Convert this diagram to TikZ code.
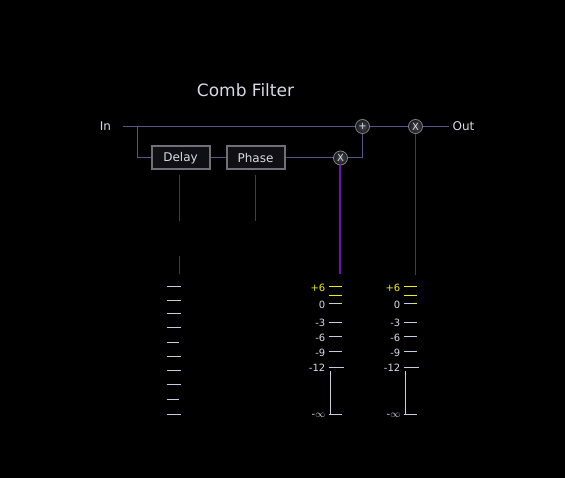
\documentclass[tikz,border=0pt]{standalone}
\usepackage{fontspec}
\setmainfont{DejaVu Sans}
\usepackage{xcolor}
\usetikzlibrary{positioning}

\definecolor{wire}{RGB}{92,82,138}
\definecolor{ctrl}{RGB}{112,16,176}
\definecolor{txt}{RGB}{214,218,230}
\definecolor{boxfill}{RGB}{16,16,20}
\definecolor{boxedge}{RGB}{112,112,120}
\definecolor{opedge}{RGB}{130,130,138}
\definecolor{opin}{RGB}{72,72,78}
\definecolor{opout}{RGB}{26,26,30}
\definecolor{tick}{RGB}{200,204,222}
\definecolor{hot}{RGB}{240,240,0}

\tikzset{
  block/.style={draw=boxedge, line width=2pt, fill=boxfill, minimum width=58pt,
    minimum height=23pt, inner sep=0pt, text=txt, font=\fontsize{12}{14}\selectfont},
  op/.style={circle, draw=opedge, line width=0.8pt, inner color=opin,
    outer color=opout, minimum size=14pt, inner sep=0pt, text=txt,
    font=\fontsize{10}{12}\selectfont},
  lbl/.style={text=txt, font=\fontsize{12}{14}\selectfont},
  mlbl/.style={text=txt, anchor=east, inner sep=0pt, font=\fontsize{10}{11}\selectfont},
  wireline/.style={draw=wire, line width=1pt},
  ctrlline/.style={draw=ctrl, line width=1pt},
  tickline/.style={draw=tick, line width=1pt},
}

\begin{document}
\begin{tikzpicture}[x=1pt, y=-1pt]
% Background and frame
\useasboundingbox (0,0) rectangle (565,478);
\fill[black] (0,0) rectangle (565,478);

\begin{scope}[shift={(0.5,0.5)}]
% Title
\node[lbl, font=\fontsize{17}{20}\selectfont] (title) at (245,90) {Comb Filter};

% Signal path nodes
\node[lbl] (in) at (105,126) {In};
\node[block] (delay) at (180,157.5) {Delay};
\node[block] (phase) at (255,157.5) {Phase};
\node[op] (mul) at (340,157.5) {X};
\node[op] (sum) at (362,126) {+};
\node[op] (gain) at (415,126) {X};
\node[lbl] (out) at (463,126) {Out};

% Wires
\coordinate (start) at (122,126);
\coordinate (split) at (137,126);
\draw[wireline] (start) -- (sum) -- (gain) -- (out);
\draw[wireline] (split) |- (delay.west);
\draw[wireline] (delay) -- (phase) -- (mul) -| (sum);

% Control lines
\coordinate (dtop) at (179,175);
\coordinate (dmid) at (179,221);
\coordinate (dlow) at (179,256);
\coordinate (dend) at (179,274);
\coordinate (ptop) at (255,175);
\coordinate (pend) at (255,221);
\coordinate (mend) at (339.5,274);
\coordinate (gend) at (415,275);
\draw[ctrlline] (dtop) -- (dmid);
\draw[ctrlline] (dlow) -- (dend);
\draw[ctrlline] (ptop) -- (pend);
\draw[ctrlline, line width=2pt] (mul.south -| mend) -- (mend);
\draw[ctrlline] (gain) -- (gend);

% Left scale
\foreach \y/\w in {286/14,300/14,313/14,327/14,342/12,356/14,370/14,384/14,399/12,414/14} {
    \draw[tickline] (166,\y) -- ++(\w,0);
}

% Meters
\foreach \dx [count=\i] in {0,75} {
  \begin{scope}[xshift=\dx pt]
    \draw[draw=hot, line width=1pt] (328,286) -- (341,286);
    \draw[draw=hot, line width=1pt] (328,295) -- (341,295);
    \draw[tickline] (328,303) -- (338,303);
    \draw[draw=hot, line width=1pt] (338,303) -- (341,303);
    \foreach \y in {322,336,351} {
        \draw[tickline] (328,\y) -- (341,\y);
    }
    \draw[tickline] (328,367) -- (343,367);
    \draw[tickline] (330,370) -- (330,413);
    \draw[tickline] (328,414) -- (341,414);
    \node[mlbl, text=hot] (p\i) at (325,287) {+6};
    \node[mlbl] (z\i) at (325,304) {0};
    \node[mlbl] (a\i) at (325,322.5) {-3};
    \node[mlbl] (b\i) at (325,337) {-6};
    \node[mlbl] (c\i) at (325,352) {-9};
    \node[mlbl] (d\i) at (325,367) {-12};
    \node[mlbl] (e\i) at (325,415) {-$\infty$};
  \end{scope}
}
\end{scope}
\end{tikzpicture}
\end{document}
